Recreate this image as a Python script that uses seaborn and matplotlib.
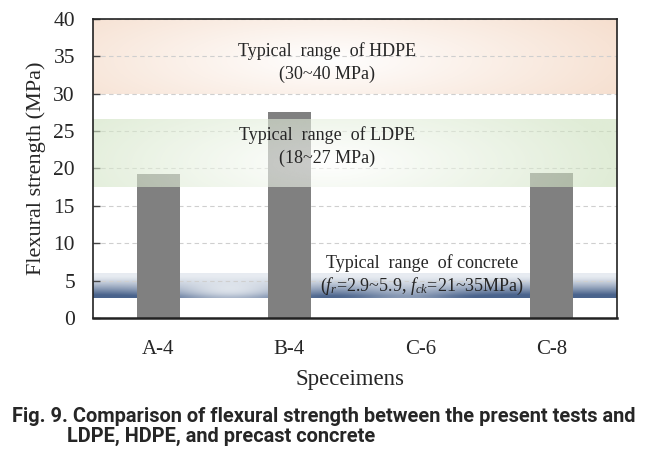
import numpy as np
import pandas as pd
import matplotlib
matplotlib.use('Agg')
import matplotlib.pyplot as plt
import seaborn as sns

# data
specimens = ['A-4', 'B-4', 'C-6', 'C-8']
strength = [19.2, 27.5, 0.0, 19.4]
hdpe_range = (30.0, 40.0)
ldpe_range = (17.5, 26.5)
concrete_range = (2.7, 6.0)
y_ticks = [0, 5, 10, 15, 20, 25, 30, 35, 40]


def band_image(base, alpha, cx, cy, sx, sy, n=200):
    # soft radial gradient: lighter in the middle, full colour at the edges
    xx, yy = np.meshgrid(np.linspace(0, 1, n), np.linspace(0, 1, n // 4))
    r = np.sqrt(((xx - cx) / sx) ** 2 + ((yy - cy) / sy) ** 2)
    w = np.clip(r, 0, 1)[..., None]
    img = np.ones((n // 4, n, 4))
    img[..., :3] = (1 - w) * np.array([1, 1, 1]) + w * np.array(base)
    img[..., 3] = alpha
    return img


sns.set_style('white')
plt.rcParams['font.family'] = ['Liberation Serif', 'DejaVu Serif']
plt.rcParams['mathtext.fontset'] = 'custom'
plt.rcParams['mathtext.rm'] = 'Liberation Serif'
plt.rcParams['mathtext.it'] = 'Liberation Serif:italic'

df = pd.DataFrame({'Specimen': specimens, 'Strength': strength})

fig = plt.figure(figsize=(6.61, 4.51), dpi=100)
ax = fig.add_axes([0.1407, 0.2949, 0.7927, 0.663])

sns.barplot(data=df, x='Specimen', y='Strength', color='#808080', saturation=1,
            width=0.33, linewidth=0, ax=ax, zorder=2)

ext_x = (-0.5, 3.5)
# HDPE band (behind grid)
hdpe = band_image((0.96, 0.86, 0.79), 1.0, 0.45, 0.45, 0.7, 1.2)
ax.imshow(hdpe, extent=(ext_x[0], ext_x[1], hdpe_range[0], hdpe_range[1]),
          aspect='auto', zorder=0.2, origin='lower', interpolation='bilinear')

# concrete band: vertical gradient, dark at the bottom, light spot left of centre
n = 200
xx, yy = np.meshgrid(np.linspace(0, 1, n), np.linspace(0, 1, 60))
vert = np.clip((1 - yy) * 1.25 - 0.15, 0, 1) ** 1.3
spot = np.exp(-(((xx - 0.26) / 0.12) ** 2 + ((yy - 0.35) / 0.6) ** 2))
spot2 = 0.45 * np.exp(-(((xx - 0.6) / 0.1) ** 2))
w = np.clip(vert * (1 - 0.9 * spot - spot2) + 0.08, 0, 1)[..., None]
dark = np.array([0.29, 0.39, 0.55])
conc = np.ones((60, n, 4))
conc[..., :3] = (1 - w) * np.array([0.96, 0.97, 0.98]) + w * dark
ax.imshow(conc, extent=(ext_x[0], ext_x[1], concrete_range[0], concrete_range[1]),
          aspect='auto', zorder=0.2, origin='lower', interpolation='bilinear')

# LDPE band laid over the bars, semi transparent
ldpe = band_image((0.80, 0.88, 0.74), 0.6, 0.45, 0.35, 0.55, 1.3)
ax.imshow(ldpe, extent=(ext_x[0], ext_x[1], ldpe_range[0], ldpe_range[1]),
          aspect='auto', zorder=2.2, origin='lower', interpolation='bilinear')

ax.set_xlim(*ext_x)
ax.set_ylim(0, 40)
ax.set_yticks(y_ticks)
ax.set_axisbelow(True)
ax.yaxis.grid(True, linestyle=(0, (4, 3)), color='#cfcfcf', linewidth=0.8)
ax.xaxis.grid(False)

for side in ['left', 'right', 'top', 'bottom']:
    ax.spines[side].set_visible(True)
    ax.spines[side].set_color('#222222')
    ax.spines[side].set_linewidth(1.2)
    ax.spines[side].set_zorder(3)
ax.spines['bottom'].set_linewidth(1.8)

ax.tick_params(axis='y', direction='in', length=5, width=1, color='#444444',
               labelsize=15.5, pad=13, left=True)
ax.tick_params(axis='x', length=0, labelsize=15, pad=16)

ax.set_xlabel('Speceimens', fontsize=16.5, labelpad=7)
ax.set_ylabel('Flexural strength (MPa)', fontsize=16, labelpad=5)
ax.xaxis.label.set_x(0.49)

fs = 13
ax.text(1.29, 35.7, 'Typical  range  of HDPE', ha='center', va='center', fontsize=fs, zorder=4)
ax.text(1.29, 32.6, '(30~40 MPa)', ha='center', va='center', fontsize=fs, zorder=4)
ax.text(1.29, 24.45, 'Typical  range  of LDPE', ha='center', va='center', fontsize=fs, zorder=4)
ax.text(1.29, 21.35, '(18~27 MPa)', ha='center', va='center', fontsize=fs, zorder=4)
ax.text(2.01, 7.35, 'Typical  range  of concrete', ha='center', va='center', fontsize=fs, zorder=4)
ax.text(2.01, 4.25, r'($f_r$=2.9~5.9, $f_{ck}$=21~35MPa)', ha='center', va='center',
        fontsize=fs, zorder=4)

# caption, sized so the first line spans the same width as in the reference
cap_font = ['Liberation Sans Narrow', 'Roboto', 'DejaVu Sans']
cap1 = fig.text(12 / 661, 1 - 422 / 451,
                'Fig. 9. Comparison of flexural strength between the present tests and',
                ha='left', va='baseline', fontsize=14, fontweight='bold', family=cap_font)
cap2 = fig.text(67 / 661, 1 - 442 / 451, 'LDPE, HDPE, and precast concrete',
                ha='left', va='baseline', fontsize=14, fontweight='bold', family=cap_font)
fig.canvas.draw()
width = cap1.get_window_extent().width
size = 14 * 626 / width
cap1.set_fontsize(size)
cap2.set_fontsize(size)

fig.savefig('out.png', dpi=100)
